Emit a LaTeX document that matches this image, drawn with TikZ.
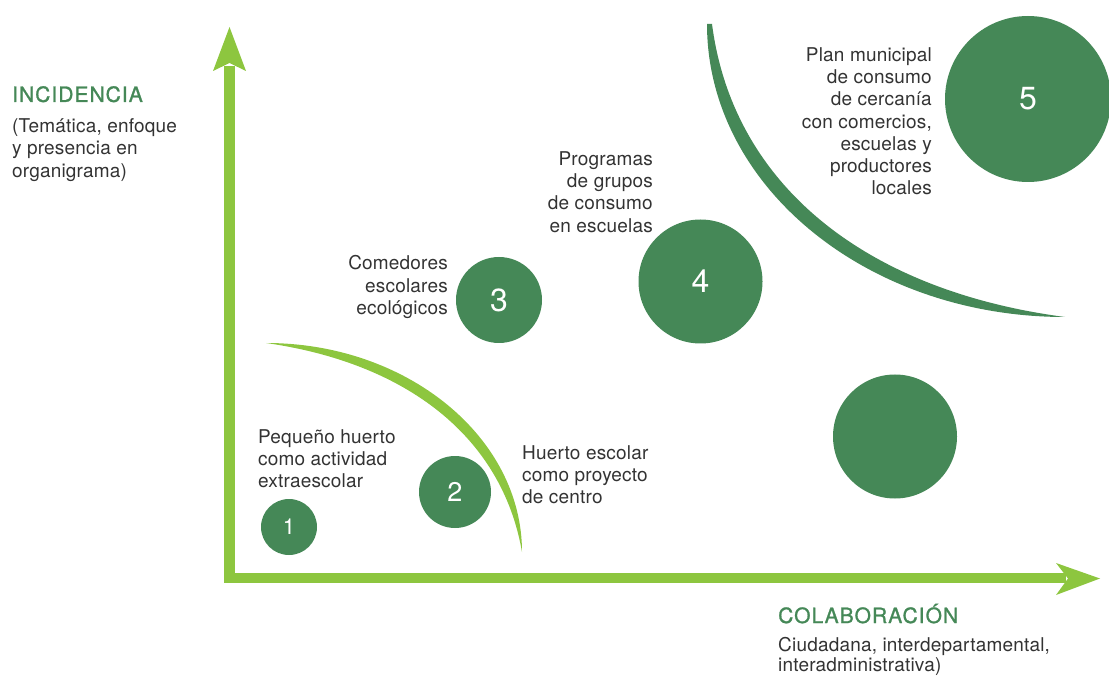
\documentclass[tikz,border=0pt]{standalone}
\usepackage{fontspec}
\setmainfont{TeX Gyre Heros}
\definecolor{dgreen}{RGB}{69,136,87}
\definecolor{lgreen}{RGB}{141,198,63}
\definecolor{txt}{RGB}{51,51,51}
\begin{document}
\begin{tikzpicture}[x=1pt,y=-1pt,
  bub/.style={circle, fill=dgreen, draw=none, text=white, inner sep=0pt},
  lbl/.style={text=txt, font=\fontsize{19}{22.2}\selectfont\addfontfeature{LetterSpace=1}, inner sep=0pt},
  head/.style={text=dgreen, font=\fontsize{21}{24}\selectfont\addfontfeature{LetterSpace=5,FakeBold=1.2}, inner sep=0pt},
  axis/.style={lgreen, line width=10.5pt, line join=miter}]
\useasboundingbox (0,0) rectangle (1109,676);

% axes
\coordinate (O) at (229.5,578);
\coordinate (ytip) at (229.5,27);
\coordinate (yend) at (229.5,66);
\coordinate (xtip) at (1100,578.5);
\coordinate (xend) at (1066,578);
\draw[axis] (yend) -- (O) -- (xend);
\fill[lgreen] (ytip) -- (246,71) -- (229.5,63) -- (213,71) -- cycle;
\fill[lgreen] (xtip) -- (1056,595) -- (1068,578.5) -- (1056,563) -- cycle;

% crescents
\fill[lgreen] (266,343) .. controls (407,343) and (522,437) .. (522,552)
  .. controls (502,437) and (407,363) .. (266,343) -- cycle;
\fill[dgreen] (707,24) .. controls (707,186) and (867,317) .. (1065,317)
  .. controls (867,291) and (733,186) .. (712,24) -- cycle;

% bubbles
\node[bub, minimum size=56pt, font=\fontsize{22}{24}\selectfont] (c1) at (289,527) {1};
\node[bub, minimum size=72pt, font=\fontsize{27}{30}\selectfont] (c2) at (455,492) {2};
\node[bub, minimum size=86pt, font=\fontsize{32}{34}\selectfont] (c3) at (499,300) {3};
\node[bub, minimum size=124pt, font=\fontsize{32}{34}\selectfont] (c4) at (700.5,281.5) {4};
\node[bub, minimum size=166pt, font=\fontsize{32}{34}\selectfont] (c5) at (1028,99) {5};
\node[bub, minimum size=124pt] (c6) at (895,436.5) {};

% labels
\node[lbl, anchor=north east, align=right] (t3) at (448,255.5) {Comedores\\escolares\\ecológicos};
\node[lbl, anchor=north east, align=right] (t4) at (653,151.5) {Programas\\de grupos\\de consumo\\en escuelas};
\node[lbl, anchor=north east, align=right] (t5) at (932,47.5) {Plan municipal\\de consumo\\de cercanía\\con comercios,\\escuelas y\\productores\\locales};
\node[lbl, anchor=north west, align=left] (t1) at (258,429.5) {Pequeño huerto\\como actividad\\extraescolar};
\node[lbl, anchor=north west, align=left] (t2) at (522,445.5) {Huerto escolar\\como proyecto\\de centro};

\node[head, anchor=north west] (incid) at (12,86) {INCIDENCIA};
\node[lbl, anchor=north west, align=left] (incsub) at (12,118.5) {(Temática, enfoque\\y presencia en\\organigrama)};
\node[head, anchor=base west] (colab) at (778,623) {COLABORACIÓN};
\node[lbl, anchor=north west, align=left, font=\fontsize{19}{20.5}\selectfont\addfontfeature{LetterSpace=1}] (colsub) at (778,637) {Ciudadana, interdepartamental,\\interadministrativa)};
\end{tikzpicture}
\end{document}
